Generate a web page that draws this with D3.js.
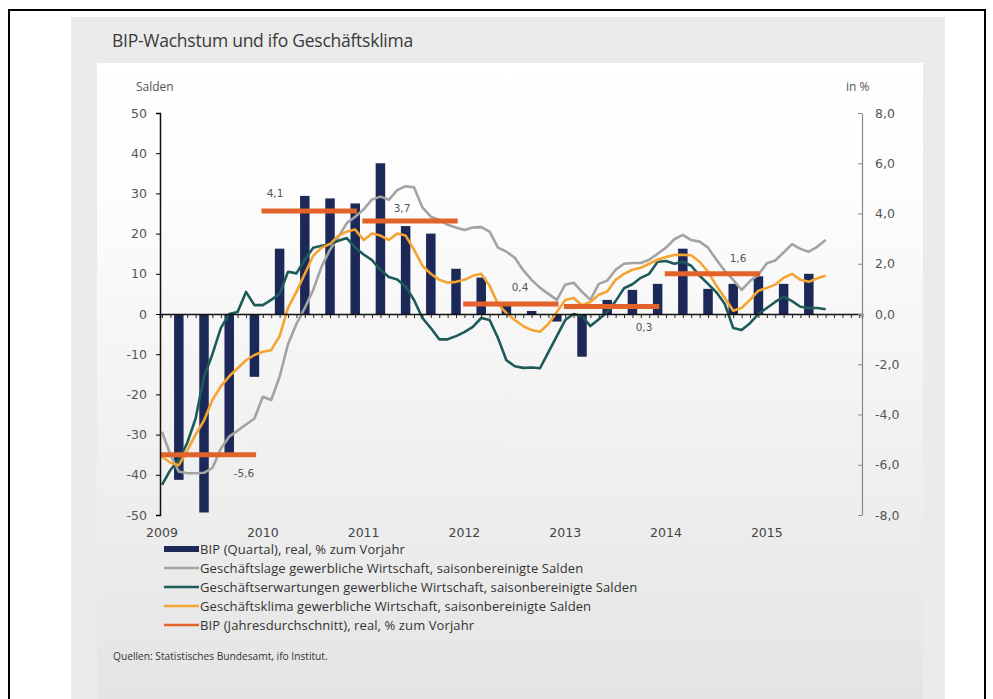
<!DOCTYPE html>
<html><head><meta charset="utf-8">
<script src="https://cdn.jsdelivr.net/npm/d3@7"></script>
<style>
html,body{margin:0;padding:0;background:#fff;}
svg{display:block;font-family:"Open Sans",sans-serif;}
</style></head>
<body><svg id="c" width="993" height="699"></svg>
<script>
// ---------- data ----------
const years = ["2009","2010","2011","2012","2013","2014","2015"];
const leftTicks = [50,40,30,20,10,0,-10,-20,-30,-40,-50];
const rightTicks = [8,6,4,2,0,-2,-4,-6,-8];
// BIP quarterly, real, % yoy (2009Q1 .. 2015Q2)
const bipQuarter = [-6.6,-7.9,-5.6,-2.5, 2.6,4.7,4.6,4.4, 6.0,3.5,3.2,1.8, 1.45,0.35,0.12,-0.3, -1.7,0.56,0.96,1.2, 2.6,1.0,1.2,1.5, 1.2,1.6];
// BIP annual average, real, % yoy
const bipYear = [-5.6,4.1,3.7,0.4,0.3,1.6];
const bipYearLabels = ["-5,6","4,1","3,7","0,4","0,3","1,6"];
// ifo monthly balances, Jan 2009 .. Aug 2015
const lage = [-29.3,-35,-39.2,-39.6,-39.6,-39.5,-38.3,-33.5,-30.5,-29,-27.5,-26,
  -20.6,-21.4,-15.6,-7.5,-2.5,1.5,6,11.8,16,19.2,22.6,24.2,
  26,28.5,29.2,28.4,30.8,31.8,31.5,26.5,24.2,23.4,22.2,21.5,
  20.9,21.5,21.6,20.5,16.5,15.5,14,10.9,8.5,6.5,5,3.5,
  7.3,7.8,5.5,3.5,7.5,8.3,11,12.5,12.7,12.7,13.5,15,
  16.5,18.6,19.7,18.4,18,16.5,13.5,10.7,8.5,6,8.2,9.8,
  12.6,13.3,15.3,17.4,16.2,15.5,16.7,18.4];
const erwartungen = [-42.5,-38.8,-36.3,-32.1,-26,-15.6,-10,-3.5,0,0.5,5.5,2.2,
  2.2,3.5,5,10.5,10.1,13.5,16.5,17,17.4,18.2,18.9,16.5,
  14.8,13.4,11,9.2,8.6,6.8,3.5,-1,-3.5,-6.3,-6.3,-5.5,
  -4.5,-3.2,-1,-1.5,-6,-11.5,-13,-13.4,-13.3,-13.5,-9.5,-5.5,
  -1.5,0,-0.5,-3,-1.3,0.5,3.2,6.4,7.4,9,10,13,
  13.2,12.5,13,12,9.5,7.5,5.4,2.5,-3.5,-4,-2.3,0,
  1.5,3,4.3,3.2,1.8,1.5,1.5,1.2];
const klima = [-35.5,-37,-37.6,-34,-30,-26.5,-21.4,-18,-15.5,-13.5,-11.5,-10.2,
  -9.4,-9,-5.5,1.5,5.5,10,14.5,16.5,17.4,19.5,20.5,21,
  18.4,20,19.5,18.4,20,19.5,16,12,10,8.5,7.8,8,
  8.5,9.5,10,7,2.5,0.2,-1.5,-3,-4,-4.4,-2.5,0.5,
  3.5,4,2.2,3,4.8,5.6,8.5,10,11,11.5,12.5,13.5,
  14.2,14.7,14.7,14.6,13,10.5,7,4,0.8,1.5,3.5,5.8,
  6.5,7.3,9,10,8.5,8,8.9,9.5];
const legendItems = [
  {label:"BIP (Quartal), real, % zum Vorjahr", type:"bar", color:"#1c2858"},
  {label:"Geschäftslage gewerbliche Wirtschaft, saisonbereinigte Salden", type:"line", color:"#a3a3a3"},
  {label:"Geschäftserwartungen gewerbliche Wirtschaft, saisonbereinigte Salden", type:"line", color:"#1d5b58"},
  {label:"Geschäftsklima gewerbliche Wirtschaft, saisonbereinigte Salden", type:"line", color:"#f5a431"},
  {label:"BIP (Jahresdurchschnitt), real,  % zum Vorjahr", type:"line", color:"#e2622a"}
];

const numFont = "DejaVu Sans";

// ---------- layout ----------
const svg = d3.select("#c");
const defs = svg.append("defs");
const grad = defs.append("linearGradient").attr("id","bg").attr("x1",0).attr("y1",0).attr("x2",0).attr("y2",1);
grad.append("stop").attr("offset","0").attr("stop-color","#ffffff");
grad.append("stop").attr("offset","0.2").attr("stop-color","#fdfdfd");
grad.append("stop").attr("offset","1").attr("stop-color","#e4e4e4");

svg.append("rect").attr("x",0).attr("y",0).attr("width",993).attr("height",699).attr("fill","#fff");
svg.append("rect").attr("x",9).attr("y",10).attr("width",976).attr("height",700)
  .attr("fill","none").attr("stroke","#000").attr("stroke-width",2);
svg.append("rect").attr("x",71).attr("y",17).attr("width",874).attr("height",690).attr("fill","#ebebeb");
svg.append("rect").attr("x",97).attr("y",63).attr("width",826).attr("height",640).attr("fill","url(#bg)");

svg.append("text").attr("x",112).attr("y",47).attr("font-size",17.5).attr("letter-spacing",-0.25)
  .attr("fill","#3a3a3a").text("BIP-Wachstum und ifo Geschäftsklima");

const x = d3.scaleLinear().domain([-0.24,83.33]).range([160,862]);
const yL = d3.scaleLinear().domain([-50,50]).range([515,113]);
const yR = d3.scaleLinear().domain([-8,8]).range([515,113]);

// bars
svg.append("g").selectAll("rect").data(bipQuarter).join("rect")
  .attr("x",(d,i)=>x(3*i+2)-4.75).attr("width",9.5)
  .attr("y",d=>Math.min(yR(d),yR(0))).attr("height",d=>Math.abs(yR(d)-yR(0)))
  .attr("fill","#1c2858");

// lines
const line = d3.line().x((d,i)=>x(i)).y(d=>yL(d));
[[lage,"#a3a3a3"],[erwartungen,"#1d5b58"],[klima,"#f5a431"]].forEach(([s,c])=>{
  svg.append("path").datum(s).attr("d",line).attr("fill","none").attr("stroke",c)
    .attr("stroke-width",2.6).attr("stroke-linejoin","round");
});

// annual segments
svg.append("g").selectAll("line").data(bipYear).join("line")
  .attr("x1",(d,i)=>x(12*i-0.15)).attr("x2",(d,i)=>x(12*i+11.2))
  .attr("y1",d=>yR(d)).attr("y2",d=>yR(d))
  .attr("stroke","#e2622a").attr("stroke-width",5);
const labelPos = [[244,477],[275,197],[402,212],[520,291],[644,331],[738,262]];
svg.append("g").selectAll("text").data(bipYearLabels).join("text")
  .attr("x",(d,i)=>labelPos[i][0]).attr("y",(d,i)=>labelPos[i][1])
  .attr("text-anchor","middle").attr("font-family",numFont).attr("font-size",10.5).attr("fill","#555").text(d=>d);

// zero axis with monthly ticks
const gx = svg.append("g").attr("transform",`translate(0,${yL(0)})`)
  .call(d3.axisBottom(x).tickValues(d3.range(0,84)).tickSize(4).tickFormat(""));
gx.select(".domain").attr("stroke","#111").attr("stroke-width",1.5);
gx.selectAll(".tick line").attr("stroke","#222");

// year labels
svg.append("g").selectAll("text").data(years).join("text")
  .attr("x",(d,i)=>x(12*i)).attr("y",537).attr("text-anchor","middle")
  .attr("font-family",numFont).attr("font-size",12.5).attr("fill","#444").text(d=>d);

// left axis
const gl = svg.append("g").attr("transform","translate(160,0)")
  .call(d3.axisLeft(yL).tickValues(leftTicks).tickSize(4).tickPadding(9).tickFormat(d=>String(d)));
gl.select(".domain").attr("stroke","#111").attr("stroke-width",1.5);
gl.selectAll("text").attr("font-size",12.5).attr("fill","#555").attr("font-family",numFont);

// right axis
const gr = svg.append("g").attr("transform","translate(862,0)")
  .call(d3.axisRight(yR).tickValues(rightTicks).tickSizeInner(-4).tickSizeOuter(0).tickPadding(13)
    .tickFormat(d=>d3.format(".1f")(d).replace(".",",").replace("−","-")));
gr.select(".domain").attr("stroke","#888").attr("stroke-width",1.2);
gr.selectAll(".tick line").attr("stroke","#888");
gr.selectAll("text").attr("font-size",12.5).attr("fill","#555").attr("font-family",numFont);

svg.append("text").attr("x",136).attr("y",91).attr("font-size",12).attr("fill","#555").text("Salden");
svg.append("text").attr("x",846).attr("y",91).attr("font-size",12).attr("fill","#555").text("in %");

// legend
const lg = svg.append("g");
legendItems.forEach((d,i)=>{
  const cy = 549 + i*19;
  if(d.type==="bar"){
    lg.append("rect").attr("x",164).attr("y",cy-3).attr("width",35).attr("height",6).attr("fill",d.color);
  } else {
    lg.append("line").attr("x1",164).attr("x2",199).attr("y1",cy).attr("y2",cy)
      .attr("stroke",d.color).attr("stroke-width",2.5);
  }
  lg.append("text").attr("x",200).attr("y",cy+4.5).attr("font-size",13).attr("letter-spacing",0.1)
    .attr("fill","#333").text(d.label);
});

svg.append("text").attr("x",113).attr("y",660).attr("font-size",10.2).attr("letter-spacing",0)
  .attr("fill","#333").text("Quellen: Statistisches Bundesamt, ifo Institut.");
</script></body></html>
